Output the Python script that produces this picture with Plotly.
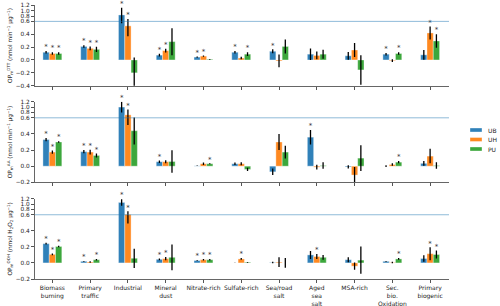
import numpy as np
import plotly.graph_objects as go

categories = ["Biomass burning", "Primary traffic", "Industrial", "Mineral dust",
              "Nitrate-rich", "Sulfate-rich", "Sea/road salt", "Aged sea salt",
              "MSA-rich", "Sec. bio. Oxidation", "Primary biogenic"]
tick_labels = ["Biomass<br>burning", "Primary<br>traffic", "Industrial", "Mineral<br>dust",
               "Nitrate-rich", "Sulfate-rich", "Sea/road<br>salt", "Aged<br>sea<br>salt",
               "MSA-rich", "Sec.<br>bio.<br>Oxidation", "Primary<br>biogenic"]
series = ["UB", "UH", "PU"]
colors = ["#1f77b4", "#ff7f0e", "#2ca02c"]

# ---- OP DTT ----
dtt_ub = [0.12, 0.21, 0.84, 0.075, 0.045, 0.12, 0.135, 0.09, 0.065, 0.09, 0.08]
dtt_ub_err = [0.02, 0.02, 0.27, 0.02, 0.01, 0.02, 0.03, 0.09, 0.06, 0.02, 0.075]
dtt_ub_sig = [1, 1, 1, 1, 1, 1, 1, 0, 0, 1, 0]
dtt_uh = [0.10, 0.18, 0.53, 0.145, 0.06, 0.03, -0.015, 0.07, 0.155, -0.01, 0.42]
dtt_uh_err = [0.02, 0.03, 0.16, 0.03, 0.01, 0.02, 0.10, 0.06, 0.11, 0.02, 0.10]
dtt_uh_sig = [1, 1, 1, 1, 1, 0, 0, 0, 0, 0, 1]
dtt_pu = [0.10, 0.165, -0.20, 0.285, 0.01, 0.09, 0.21, 0.09, -0.155, 0.10, 0.295]
dtt_pu_err = [0.02, 0.04, 0.24, 0.21, 0.005, 0.03, 0.11, 0.07, 0.23, 0.02, 0.105]
dtt_pu_sig = [1, 1, 0, 0, 0, 1, 0, 0, 0, 1, 1]

# ---- OP AA ----
aa_ub = [0.33, 0.18, 1.0, 0.055, 0.004, 0.03, -0.07, 0.36, -0.01, 0.0, 0.035]
aa_ub_err = [0.02, 0.02, 0.2, 0.015, 0.003, 0.015, 0.04, 0.09, 0.02, 0.01, 0.03]
aa_ub_sig = [1, 1, 1, 1, 0, 0, 0, 1, 0, 0, 0]
aa_uh = [0.175, 0.175, 0.71, 0.055, 0.03, 0.03, 0.30, -0.012, -0.11, 0.02, 0.125]
aa_uh_err = [0.02, 0.03, 0.2, 0.02, 0.015, 0.02, 0.10, 0.03, 0.10, 0.015, 0.09]
aa_uh_sig = [1, 1, 1, 0, 0, 0, 0, 0, 0, 0, 0]
aa_pu = [0.30, 0.133, 0.44, 0.058, 0.03, -0.04, 0.175, 0.008, 0.10, 0.05, 0.008]
aa_pu_err = [0.01, 0.025, 0.17, 0.14, 0.005, 0.02, 0.08, 0.04, 0.16, 0.015, 0.04]
aa_pu_sig = [1, 1, 0, 0, 1, 0, 0, 0, 0, 1, 0]

# ---- OP OOH ----
ooh_ub = [0.24, 0.02, 1.06, 0.045, 0.03, 0.0, 0.005, 0.10, 0.04, 0.02, 0.055]
ooh_ub_err = [0.01, 0.005, 0.12, 0.01, 0.005, 0.002, 0.01, 0.05, 0.03, 0.005, 0.04]
ooh_ub_sig = [1, 1, 1, 1, 1, 0, 0, 0, 0, 0, 0]
ooh_uh = [0.107, 0.012, 0.61, 0.053, 0.04, 0.05, 0.01, 0.08, -0.04, 0.005, 0.115]
ooh_uh_err = [0.01, 0.01, 0.12, 0.02, 0.01, 0.01, 0.06, 0.03, 0.045, 0.01, 0.08]
ooh_uh_sig = [1, 0, 1, 1, 1, 1, 0, 1, 0, 0, 1]
ooh_pu = [0.205, 0.04, 0.058, 0.07, 0.04, 0.008, 0.0, 0.07, 0.035, 0.05, 0.105]
ooh_pu_err = [0.01, 0.01, 0.12, 0.16, 0.01, 0.005, 0.06, 0.03, 0.17, 0.01, 0.05]
ooh_pu_sig = [1, 1, 0, 0, 1, 0, 0, 0, 0, 1, 1]

ref_level = 0.6
panels = [
    dict(vals=[dtt_ub, dtt_uh, dtt_pu], errs=[dtt_ub_err, dtt_uh_err, dtt_pu_err],
         sig=[dtt_ub_sig, dtt_uh_sig, dtt_pu_sig], ymin=-0.4,
         ticks=[-0.4, -0.2, 0.0, 0.2, 0.4, 0.6, 0.8, 1.0, 1.2],
         title="OP<sub>m</sub><sup>DTT</sup> (nmol min<sup>−1</sup> μg<sup>−1</sup>)"),
    dict(vals=[aa_ub, aa_uh, aa_pu], errs=[aa_ub_err, aa_uh_err, aa_pu_err],
         sig=[aa_ub_sig, aa_uh_sig, aa_pu_sig], ymin=-0.2,
         ticks=[-0.2, 0.0, 0.2, 0.4, 0.6, 0.8, 1.0, 1.2],
         title="OP<sub>m</sub><sup>AA</sup> (nmol min<sup>−1</sup> μg<sup>−1</sup>)"),
    dict(vals=[ooh_ub, ooh_uh, ooh_pu], errs=[ooh_ub_err, ooh_uh_err, ooh_pu_err],
         sig=[ooh_ub_sig, ooh_uh_sig, ooh_pu_sig], ymin=-0.2,
         ticks=[-0.2, 0.0, 0.2, 0.4, 0.6, 0.8, 1.0, 1.2],
         title="OP<sub>m</sub><sup>OOH</sup> (nmol H<sub>2</sub>O<sub>2</sub> μg<sup>−1</sup>)"),
]

W, H = 500, 306
ml, mr, mt, mb = 35, 51, 5, 27
plot_h = H - mt - mb
plot_w = W - ml - mr
# panel pixel extents (top, bottom)
pix = [(5.3, 85.7), (101.7, 182.3), (198.7, 279.0)]


def make_T(ymin):
    k = 0.25 * (ref_level - ymin) / ref_level

    def T(y):
        y = np.asarray(y, dtype=float)
        return np.where(y <= ref_level, y, ref_level + (y - ref_level) * k)
    return T


fig = go.Figure()
x = np.arange(len(categories))
bw = 1 / 6
for p, panel in enumerate(panels):
    xa = "x" if p == 0 else f"x{p+1}"
    ya = "y" if p == 0 else f"y{p+1}"
    T = make_T(panel["ymin"])
    for s in range(3):
        v = np.array(panel["vals"][s])
        e = np.array(panel["errs"][s])
        tv = T(v)
        top = T(v + e)
        bot = T(v - e)
        fig.add_trace(go.Bar(
            x=x, y=tv, width=bw, offset=-0.25 + s * bw, name=series[s],
            marker=dict(color=colors[s], opacity=0.92,
                        line=dict(color="rgba(255,255,255,0.45)", width=0.8)),
            error_y=dict(type="data", symmetric=False, array=top - tv,
                         arrayminus=tv - bot, color="black", thickness=1.3, width=0),
            xaxis=xa, yaxis=ya, showlegend=False, customdata=v,
            hovertemplate="%{customdata}<extra>" + series[s] + "</extra>"))
        sig = np.array(panel["sig"][s]).astype(bool)
        ypos = np.maximum(top, tv)[sig]
        fig.add_trace(go.Scatter(
            x=x[sig] + (s - 1) * bw, y=ypos, mode="text", text=["*"] * int(sig.sum()),
            textposition="top center", textfont=dict(size=7, color="#333"),
            cliponaxis=False, xaxis=xa, yaxis=ya, showlegend=False, hoverinfo="skip"))

    t0, t1 = pix[p]
    dom = [(H - mb - t1) / plot_h, min(1.0, (H - mb - t0) / plot_h)]
    rng = [panel["ymin"], float(T(1.2))]
    fig.layout[("xaxis" if p == 0 else f"xaxis{p+1}")] = dict(
        domain=[0, 1], anchor=ya, range=[-0.46, 10.5], automargin=False,
        tickvals=list(x), ticktext=tick_labels, showticklabels=(p == 2),
        ticks="outside", ticklen=3, tickwidth=0.8, tickcolor="#555",
        showline=True, linecolor="#666", linewidth=1, showgrid=False, zeroline=False,
        tickfont=dict(size=6, color="#222", family="DejaVu Sans"), fixedrange=True)
    fig.layout[("yaxis" if p == 0 else f"yaxis{p+1}")] = dict(
        domain=dom, anchor=xa, range=rng, automargin=False,
        tickvals=[float(T(t)) for t in panel["ticks"]],
        ticktext=[f"{t:.1f}".replace("-", "−") for t in panel["ticks"]],
        ticks="outside", ticklen=3, tickwidth=0.8, tickcolor="#555",
        showline=True, linecolor="#666", linewidth=1, showgrid=False, zeroline=False,
        tickfont=dict(size=5.8, color="#222", family="DejaVu Sans"),
        title=dict(text=panel["title"], font=dict(size=5.8, color="#222", family="DejaVu Sans"),
                   standoff=2), fixedrange=True)
    fig.add_shape(type="line", xref=f"{xa} domain", yref=ya, x0=0, x1=1,
                  y0=ref_level, y1=ref_level,
                  line=dict(color="rgba(31,119,180,0.5)", width=1))

# legend drawn in paper coordinates
leg_y = [130, 139.5, 149]
for s in range(3):
    py = leg_y[s]
    fig.add_shape(type="rect", xref="paper", yref="paper",
                  x0=(470 - ml) / plot_w, x1=(482 - ml) / plot_w,
                  y0=(H - mb - (py + 2)) / plot_h, y1=(H - mb - (py - 2)) / plot_h,
                  fillcolor=colors[s], opacity=0.92,
                  line=dict(color="rgba(255,255,255,0.45)", width=0.8))
    fig.add_annotation(xref="paper", yref="paper", x=(486 - ml) / plot_w,
                       y=(H - mb - py) / plot_h, text=series[s], showarrow=False,
                       xanchor="left", yanchor="middle",
                       font=dict(size=6, color="#222", family="DejaVu Sans"))

fig.update_layout(width=W, height=H, margin=dict(l=ml, r=mr, t=mt, b=mb),
                  plot_bgcolor="white", paper_bgcolor="white", barmode="overlay",
                  font=dict(family="DejaVu Sans"))
fig.write_html("out.html", config={"displayModeBar": False},
               post_script="document.body.style.margin='0px';document.body.style.overflow='hidden';")
